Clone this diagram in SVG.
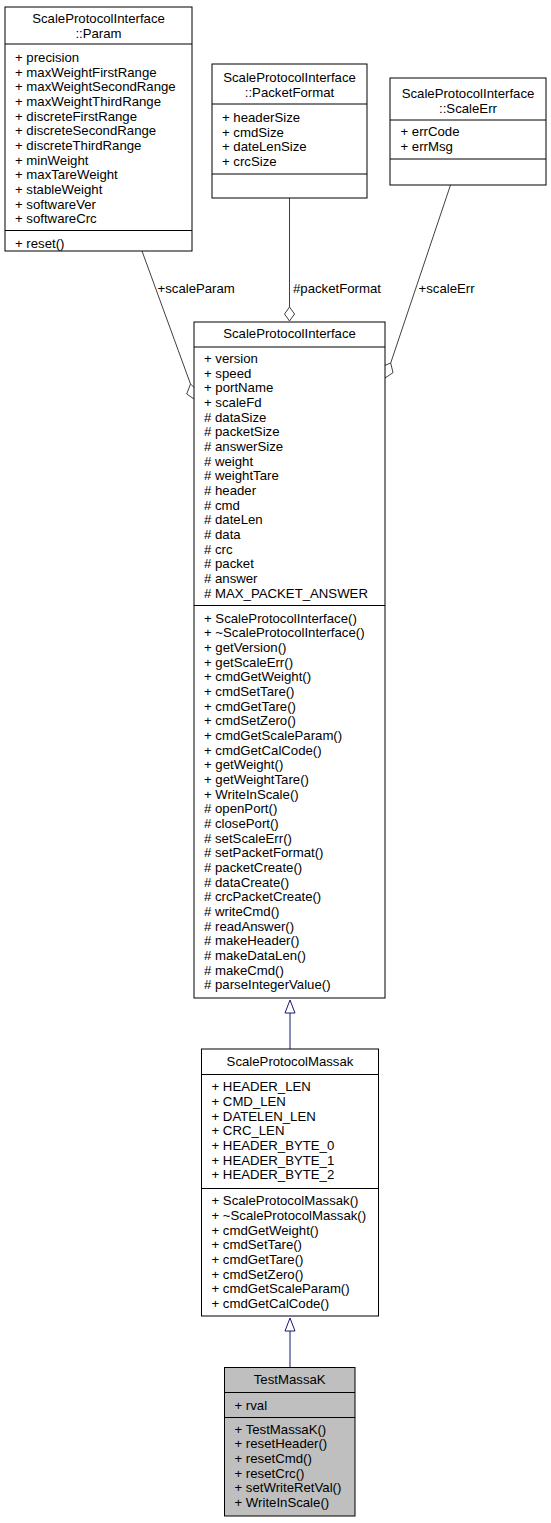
<svg xmlns="http://www.w3.org/2000/svg" width="551" height="1523" viewBox="0 0 551 1523">
<style>
text{font-family:"Liberation Sans",Arial,sans-serif;font-size:13.2px;fill:#000}
.t{text-anchor:middle}
.box{fill:#fff;stroke:#000;stroke-width:1}
.cur{fill:#bfbfbf;stroke:#000;stroke-width:1}
.div{stroke:#000;stroke-width:1}
.assoc{fill:none;stroke:#404040;stroke-width:1}
.dia{fill:#fff;stroke:#404040;stroke-width:1}
.inh{fill:none;stroke:#191970;stroke-width:1}
.tri{fill:#fff;stroke:#191970;stroke-width:1}
</style>
<rect width="551" height="1523" fill="#fff"/>
<g id="connectors">
<line class="assoc" x1="142" y1="251" x2="190.5" y2="384"/>
<polygon class="dia" points="190.5,384 196.7,390 194,399 186.7,394"/>
<text x="157.5" y="292.5">+scaleParam</text>
<line class="assoc" x1="289.5" y1="198" x2="289.5" y2="307"/>
<polygon class="dia" points="289.5,307 294.5,314 289.5,321 284.5,314"/>
<text x="293" y="292.5">#packetFormat</text>
<line class="assoc" x1="450.5" y1="185" x2="390.7" y2="363"/>
<polygon class="dia" points="390.7,363 393,372.7 385,378 381.7,366.7"/>
<text x="418.5" y="292.5">+scaleErr</text>
<line class="inh" x1="290" y1="1013" x2="290" y2="1049"/>
<polygon class="tri" points="290,1000 295,1013 285,1013"/>
<line class="inh" x1="290" y1="1331" x2="290" y2="1367"/>
<polygon class="tri" points="290,1318 295,1331 285,1331"/>
</g>
<g id="Param">
<rect class="box" x="5" y="7" width="187" height="244"/>
<text class="t" x="98.5" y="23">ScaleProtocolInterface</text>
<text class="t" x="98.5" y="38">::Param</text>
<line class="div" x1="5" y1="44" x2="192" y2="44"/>
<text x="15" y="61.8">+ precision</text>
<text x="15" y="76.5">+ maxWeightFirstRange</text>
<text x="15" y="91.1">+ maxWeightSecondRange</text>
<text x="15" y="105.8">+ maxWeightThirdRange</text>
<text x="15" y="120.5">+ discreteFirstRange</text>
<text x="15" y="135.2">+ discreteSecondRange</text>
<text x="15" y="149.8">+ discreteThirdRange</text>
<text x="15" y="164.5">+ minWeight</text>
<text x="15" y="179.2">+ maxTareWeight</text>
<text x="15" y="193.8">+ stableWeight</text>
<text x="15" y="208.5">+ softwareVer</text>
<text x="15" y="223.2">+ softwareCrc</text>
<line class="div" x1="5" y1="230.5" x2="192" y2="230.5"/>
<text x="15" y="248">+ reset()</text>
</g>
<g id="PacketFormat">
<rect class="box" x="212" y="64" width="155" height="134"/>
<text class="t" x="289.5" y="81.5">ScaleProtocolInterface</text>
<text class="t" x="289.5" y="96.5">::PacketFormat</text>
<line class="div" x1="212" y1="104" x2="367" y2="104"/>
<text x="222" y="121.8">+ headerSize</text>
<text x="222" y="136.5">+ cmdSize</text>
<text x="222" y="151.1">+ dateLenSize</text>
<text x="222" y="165.8">+ crcSize</text>
<line class="div" x1="212" y1="174" x2="367" y2="174"/>
</g>
<g id="ScaleErr">
<rect class="box" x="390" y="78" width="156" height="107"/>
<text class="t" x="468" y="97.5">ScaleProtocolInterface</text>
<text class="t" x="468" y="112.5">::ScaleErr</text>
<line class="div" x1="390" y1="120" x2="546" y2="120"/>
<text x="400.5" y="135.8">+ errCode</text>
<text x="400.5" y="150.5">+ errMsg</text>
<line class="div" x1="390" y1="159" x2="546" y2="159"/>
</g>
<g id="ScaleProtocolInterface">
<rect class="box" x="194" y="322" width="191" height="676"/>
<text class="t" x="289.5" y="337.5">ScaleProtocolInterface</text>
<line class="div" x1="194" y1="347" x2="385" y2="347"/>
<text x="204" y="362.8">+ version</text>
<text x="204" y="377.5">+ speed</text>
<text x="204" y="392.1">+ portName</text>
<text x="204" y="406.8">+ scaleFd</text>
<text x="204" y="421.5"># dataSize</text>
<text x="204" y="436.2"># packetSize</text>
<text x="204" y="450.8"># answerSize</text>
<text x="204" y="465.5"># weight</text>
<text x="204" y="480.2"># weightTare</text>
<text x="204" y="494.8"># header</text>
<text x="204" y="509.5"># cmd</text>
<text x="204" y="524.2"># dateLen</text>
<text x="204" y="538.8"># data</text>
<text x="204" y="553.5"># crc</text>
<text x="204" y="568.2"># packet</text>
<text x="204" y="582.8"># answer</text>
<text x="204" y="597.5"># MAX_PACKET_ANSWER</text>
<line class="div" x1="194" y1="605.5" x2="385" y2="605.5"/>
<text x="204" y="622.5">+ ScaleProtocolInterface()</text>
<text x="204" y="637.2">+ ~ScaleProtocolInterface()</text>
<text x="204" y="651.8">+ getVersion()</text>
<text x="204" y="666.5">+ getScaleErr()</text>
<text x="204" y="681.2">+ cmdGetWeight()</text>
<text x="204" y="695.8">+ cmdSetTare()</text>
<text x="204" y="710.5">+ cmdGetTare()</text>
<text x="204" y="725.2">+ cmdSetZero()</text>
<text x="204" y="739.9">+ cmdGetScaleParam()</text>
<text x="204" y="754.5">+ cmdGetCalCode()</text>
<text x="204" y="769.2">+ getWeight()</text>
<text x="204" y="783.9">+ getWeightTare()</text>
<text x="204" y="798.5">+ WriteInScale()</text>
<text x="204" y="813.2"># openPort()</text>
<text x="204" y="827.9"># closePort()</text>
<text x="204" y="842.5"># setScaleErr()</text>
<text x="204" y="857.2"># setPacketFormat()</text>
<text x="204" y="871.9"># packetCreate()</text>
<text x="204" y="886.6"># dataCreate()</text>
<text x="204" y="901.2"># crcPacketCreate()</text>
<text x="204" y="915.9"># writeCmd()</text>
<text x="204" y="930.6"># readAnswer()</text>
<text x="204" y="945.2"># makeHeader()</text>
<text x="204" y="959.9"># makeDataLen()</text>
<text x="204" y="974.6"># makeCmd()</text>
<text x="204" y="989.3"># parseIntegerValue()</text>
</g>
<g id="ScaleProtocolMassak">
<rect class="box" x="201.5" y="1049" width="177" height="267"/>
<text class="t" x="290" y="1066">ScaleProtocolMassak</text>
<line class="div" x1="201.5" y1="1074.5" x2="378.5" y2="1074.5"/>
<text x="211.5" y="1091.2">+ HEADER_LEN</text>
<text x="211.5" y="1105.9">+ CMD_LEN</text>
<text x="211.5" y="1120.5">+ DATELEN_LEN</text>
<text x="211.5" y="1135.2">+ CRC_LEN</text>
<text x="211.5" y="1149.9">+ HEADER_BYTE_0</text>
<text x="211.5" y="1164.5">+ HEADER_BYTE_1</text>
<text x="211.5" y="1179.2">+ HEADER_BYTE_2</text>
<line class="div" x1="201.5" y1="1188.5" x2="378.5" y2="1188.5"/>
<text x="211.5" y="1205.2">+ ScaleProtocolMassak()</text>
<text x="211.5" y="1219.9">+ ~ScaleProtocolMassak()</text>
<text x="211.5" y="1234.5">+ cmdGetWeight()</text>
<text x="211.5" y="1249.2">+ cmdSetTare()</text>
<text x="211.5" y="1263.9">+ cmdGetTare()</text>
<text x="211.5" y="1278.5">+ cmdSetZero()</text>
<text x="211.5" y="1293.2">+ cmdGetScaleParam()</text>
<text x="211.5" y="1307.9">+ cmdGetCalCode()</text>
</g>
<g id="TestMassaK">
<rect class="cur" x="224.5" y="1367.5" width="130.5" height="148.5"/>
<text class="t" x="289.7" y="1383.8">TestMassaK</text>
<line class="div" x1="224.5" y1="1392.5" x2="355" y2="1392.5"/>
<text x="234.5" y="1409.5">+ rval</text>
<line class="div" x1="224.5" y1="1417.5" x2="355" y2="1417.5"/>
<text x="234.5" y="1433.5">+ TestMassaK()</text>
<text x="234.5" y="1448.2">+ resetHeader()</text>
<text x="234.5" y="1462.8">+ resetCmd()</text>
<text x="234.5" y="1477.5">+ resetCrc()</text>
<text x="234.5" y="1492.2">+ setWriteRetVal()</text>
<text x="234.5" y="1506.8">+ WriteInScale()</text>
</g>
</svg>
